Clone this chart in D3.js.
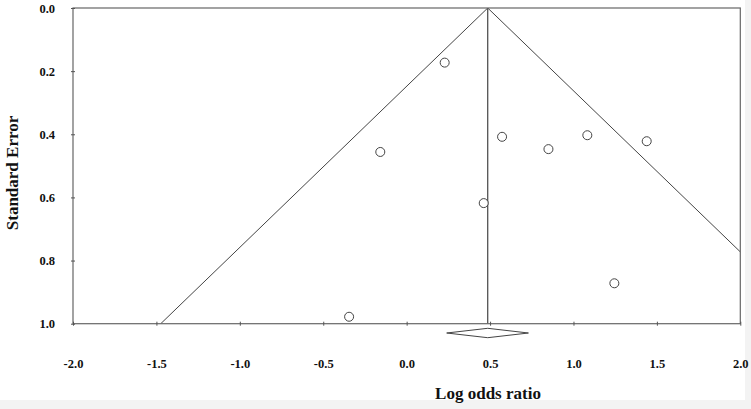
<!DOCTYPE html>
<html><head><meta charset="utf-8">
<script src="https://cdn.jsdelivr.net/npm/d3@7"></script>
<style>
html,body{margin:0;padding:0;background:#f3f3f3;}
svg{display:block;}
text{font-family:"Liberation Serif","Times New Roman",serif;font-weight:bold;fill:#111;}
</style></head>
<body><svg id="c" width="751" height="409"></svg>
<script>
// Study data (log odds ratio, standard error)
const logOdds = [0.228, -0.158, 0.462, 0.572, 0.850, 1.083, 1.439, 1.245, -0.345];
const stdErr  = [0.173, 0.456, 0.618, 0.408, 0.447, 0.403, 0.422, 0.872, 0.978];
// Pooled estimate and confidence interval
const pooled = 0.486;
const pooledLo = 0.240;
const pooledHi = 0.730;
const xTicks = [-2.0, -1.5, -1.0, -0.5, 0.0, 0.5, 1.0, 1.5, 2.0];
const yTicks = [0.0, 0.2, 0.4, 0.6, 0.8, 1.0];

const fmt = d => d.toFixed(1);

const svg = d3.select("#c");
svg.append("rect").attr("x",0).attr("y",0).attr("width",745).attr("height",400).attr("fill","#fff");

const x = d3.scaleLinear().domain([-2,2]).range([73,740.3]);
const y = d3.scaleLinear().domain([0,1]).range([8,323.7]);

const g = svg.append("g");
svg.append("clipPath").attr("id","pc").append("rect")
  .attr("x",73).attr("y",8).attr("width",667.3).attr("height",315.7);

// funnel
const funnel = g.append("g").attr("clip-path","url(#pc)");
const line = d3.line().x(d=>x(d[0])).y(d=>y(d[1]));
funnel.append("path").attr("d", line([[pooled-1.96*1.0,1.0],[pooled,0],[pooled+1.96*1.0,1.0]]))
  .attr("fill","none").attr("stroke","#444").attr("stroke-width",1);
funnel.append("line").attr("x1",x(pooled)).attr("x2",x(pooled)).attr("y1",y(0)).attr("y2",y(1))
  .attr("stroke","#444").attr("stroke-width",1.2);

// frame
g.append("rect").attr("x",73).attr("y",8).attr("width",667.3).attr("height",315.7)
  .attr("fill","none").attr("stroke","#666").attr("stroke-width",1.2);

// axes
const xAxis = d3.axisBottom(x).tickValues(xTicks).tickSize(0).tickFormat(fmt);
const xa = g.append("g").attr("transform",`translate(0,${y(1)})`).call(xAxis);
xa.select(".domain").remove();
xa.selectAll("text").attr("y",40).attr("dy","0.32em")
  .style("font-size","12.5px").style("fill","#111").style("font-family","'Liberation Serif',serif").style("font-weight","bold");
xa.selectAll(".tick").append("line").attr("y1",-2).attr("y2",2).attr("stroke","#555");

const yAxis = d3.axisLeft(y).tickValues(yTicks).tickSize(0).tickFormat(fmt);
const ya = g.append("g").attr("transform",`translate(${x(-2)},0)`).call(yAxis);
ya.select(".domain").remove();
ya.selectAll("text").attr("x",-18)
  .style("font-size","12.5px").style("fill","#111").style("font-family","'Liberation Serif',serif").style("font-weight","bold");
ya.selectAll(".tick").append("line").attr("x1",-2).attr("x2",2).attr("stroke","#555");

// diamond
const dy = 333;
g.append("path").attr("d", `M${x(pooledLo)},${dy} L${x(pooled)},${dy-4.7} L${x(pooledHi)},${dy} L${x(pooled)},${dy+4.7} Z`)
  .attr("fill","#fff").attr("stroke","#444").attr("stroke-width",1);

// points
g.selectAll("circle.pt").data(logOdds.map((v,i)=>[v,stdErr[i]])).join("circle")
  .attr("class","pt").attr("cx",d=>x(d[0])).attr("cy",d=>y(d[1])).attr("r",4.5)
  .attr("fill","#fff").attr("stroke","#444").attr("stroke-width",1);

// titles
svg.append("text").attr("x",488).attr("y",399).attr("text-anchor","middle").style("font-size","17px").text("Log odds ratio");
svg.append("text").attr("transform","translate(18,173) rotate(-90)").attr("text-anchor","middle").style("font-size","17px").text("Standard Error");
</script></body></html>
